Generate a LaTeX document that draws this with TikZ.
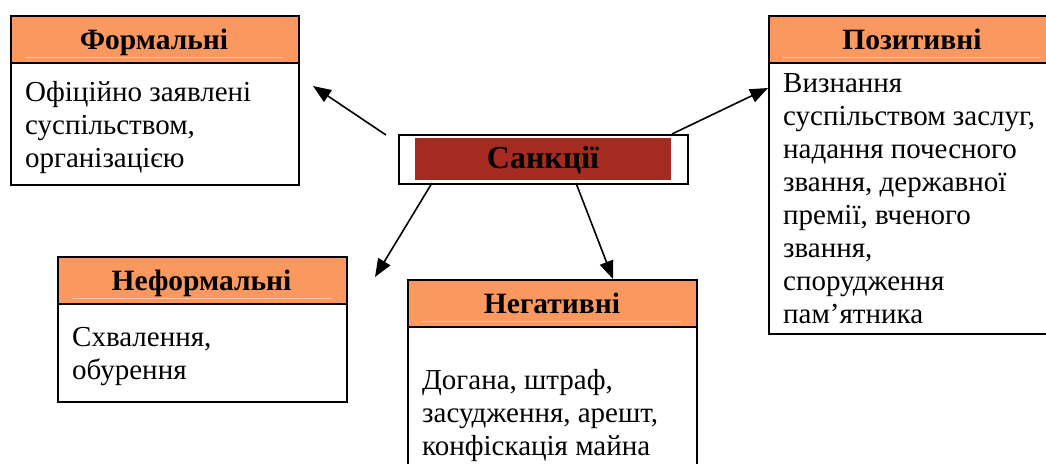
\documentclass[tikz,border=0pt]{standalone}
\usepackage{fontspec}
\setmainfont{Liberation Serif}
\usetikzlibrary{arrows.meta}
\definecolor{hdr}{RGB}{250,152,96}
\definecolor{hdrline}{RGB}{252,196,160}
\definecolor{sred}{RGB}{165,42,32}
\begin{document}
\begin{tikzpicture}[x=1pt,y=-1pt,
  boxbody/.style={draw=black, line width=2pt, inner sep=0pt, anchor=north west, fill=white},
  boxhead/.style={boxbody, fill=hdr, minimum height=47pt},
  title/.style={font=\rmfamily\bfseries\fontsize{29.5}{33}\selectfont, anchor=base, inner sep=0pt},
  bodytext/.style={font=\rmfamily\fontsize{29}{33}\selectfont, anchor=north west, inner sep=0pt, align=left},
  faint/.style={draw=hdrline, line width=0.8pt},
  arr/.style={line width=1.6pt, -{Triangle[length=18pt,width=14pt]}}]
\useasboundingbox (0,0) rectangle (1046,463);
% Формальні
\node[boxbody, minimum width=288pt, minimum height=169pt] (fbody) at (10,15) {};
\node[boxhead, minimum width=288pt] (fhead) at (10,15) {};
\draw[faint] (25,57) -- (283,57);
\node[title] (ftitle) at (154,49) {Формальні};
\node[bodytext] (ftext) at (25,77.9) {\strut Офіційно заявлені\\суспільством,\\організацією};
% Позитивні
\node[boxbody, minimum width=288pt, minimum height=318pt] (pbody) at (768,15) {};
\node[boxhead, minimum width=288pt] (phead) at (768,15) {};
\draw[faint] (783,57) -- (1041,57);
\node[title] (ptitle) at (912,49) {Позитивні};
\node[bodytext] (ptext) at (783,68.9) {\strut Визнання\\суспільством заслуг,\\надання почесного\\звання, державної\\премії, вченого\\звання,\\спорудження\\пам’ятника};
% Неформальні
\node[boxbody, minimum width=289pt, minimum height=145pt] (ibody) at (57,256) {};
\node[boxhead, minimum width=289pt] (ihead) at (57,256) {};
\draw[faint] (72,298) -- (331,298);
\node[title] (ititle) at (201.5,290) {Неформальні};
\node[bodytext] (itext) at (72,322.9) {\strut Схвалення,\\обурення};
% Негативні
\node[boxbody, minimum width=289pt, minimum height=200pt] (nbody) at (407,279) {};
\node[boxhead, minimum width=289pt] (nhead) at (407,279) {};
\draw[faint] (422,321) -- (681,321);
\node[title] (ntitle) at (552,313) {Негативні};
\node[bodytext] (ntext) at (422,365.9) {\strut Догана, штраф,\\засудження, арешт,\\конфіскація майна};
% Санкції
\node[boxbody, minimum width=289pt, minimum height=49pt] (cbox) at (398,134) {};
\node[fill=sred, inner sep=0pt, anchor=north west, minimum width=256pt, minimum height=42pt] (cred) at (415,138) {};
\node[font=\rmfamily\bfseries\fontsize{32}{38}\selectfont, anchor=base, inner sep=0pt] (ctext) at (543,168) {Санкції};
% arrows
\coordinate (s1) at (386,135); \coordinate (e1) at (313,86);
\coordinate (s2) at (672,134); \coordinate (e2) at (768,88);
\coordinate (s3) at (432,183); \coordinate (e3) at (375,277);
\coordinate (s4) at (576,183); \coordinate (e4) at (613,279);
\draw[arr] (s1) -- (e1);
\draw[arr] (s2) -- (e2);
\draw[arr] (s3) -- (e3);
\draw[arr] (s4) -- (e4);
\end{tikzpicture}
\end{document}
